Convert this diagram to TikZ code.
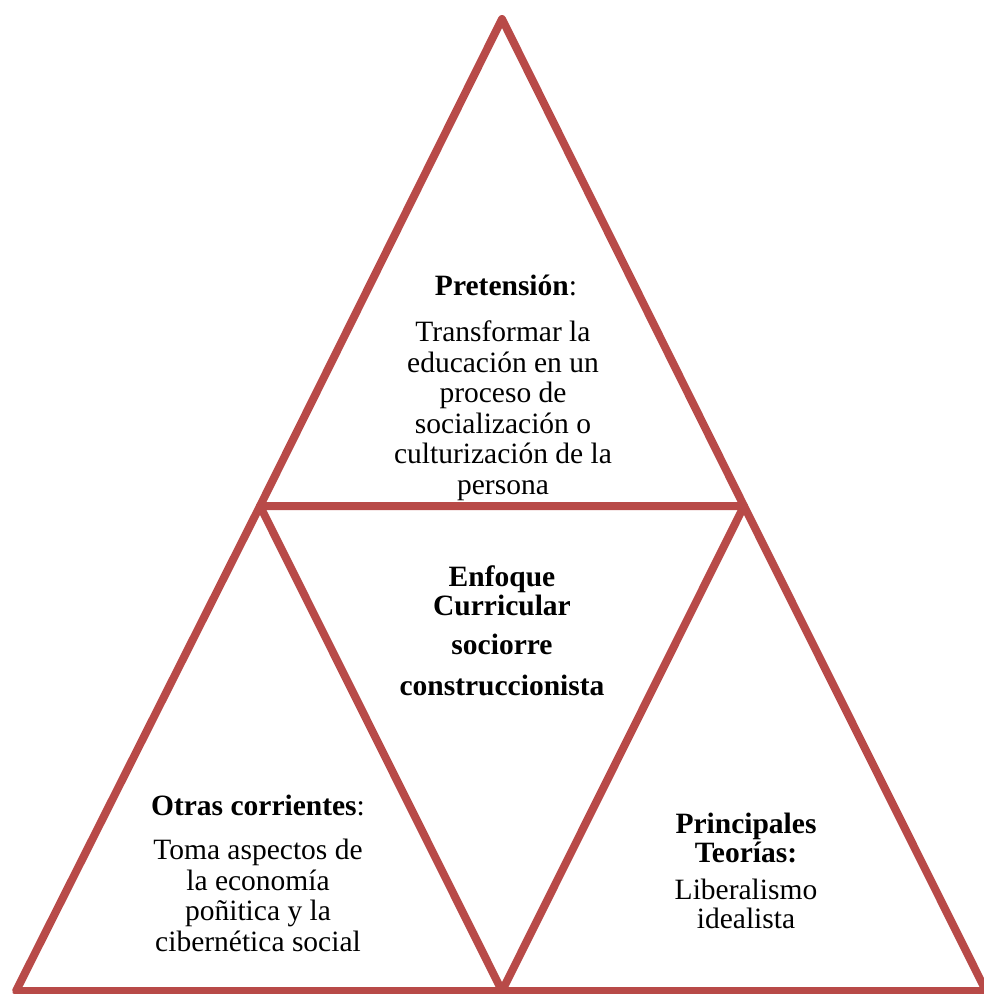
\documentclass[tikz,border=0pt]{standalone}
\usepackage{fontspec}
\setmainfont{Liberation Serif}
\definecolor{tri}{RGB}{184,74,72}
\begin{document}
\begin{tikzpicture}[x=1pt,y=-1pt,
  tribox/.style={draw=tri,line width=8pt,line join=round},
  txt/.style={anchor=base,align=center,inner sep=0pt,font=\fontsize{29.5}{30.5}\selectfont},
  hd/.style={txt,font=\fontsize{29.5}{29}\selectfont\bfseries}]
\useasboundingbox (0,0) rectangle (984,994);
\coordinate (A) at (502,19);
\coordinate (B) at (260,506);
\coordinate (C) at (744,506);
\coordinate (D) at (16,991);
\coordinate (E) at (502,991);
\coordinate (F) at (986,991);
\draw[tribox] (A) -- (B) -- (C) -- cycle;
\draw[tribox] (B) -- (D) -- (E) -- cycle;
\draw[tribox] (C) -- (E) -- (F) -- cycle;
\node[txt] (tophead) at (506,295) {\textbf{Pretensión}:};
\node[txt] (topbody) at (503,494) {Transformar la\\educación en un\\proceso de\\socialización o\\culturización de la\\persona};
\node[hd] (center) at (502,695) {Enfoque\\Curricular\\[10pt]sociorre\\[12pt]construccionista};
\node[txt] (lefthead) at (258,815) {\textbf{Otras corrientes}:};
\node[txt] (leftbody) at (258,951) {Toma aspectos de\\la economía\\poñitica y la\\cibernética social};
\node[hd] (righthead) at (746,862) {Principales\\Teorías:};
\node[txt,font=\fontsize{29.5}{28.5}\selectfont] (rightbody) at (746,928) {Liberalismo\\idealista};
\end{tikzpicture}
\end{document}
